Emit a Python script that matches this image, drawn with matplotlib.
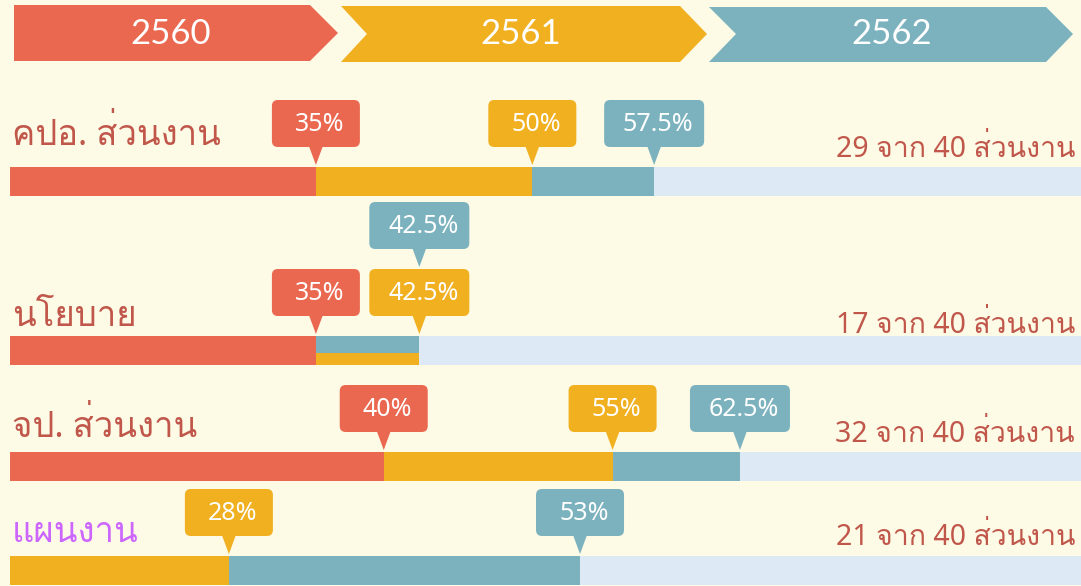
import matplotlib
matplotlib.use('Agg')
import matplotlib.pyplot as plt
from matplotlib import font_manager
from matplotlib.ft2font import FT2Font
from matplotlib.patches import Polygon, FancyBboxPatch

# data
years = ['2560', '2561', '2562']
rows = ['คปอ. ส่วนงาน', 'นโยบาย', 'จป. ส่วนงาน', 'แผนงาน']
pct_2560 = [35, 35, 40, None]
pct_2561 = [50, 42.5, 55, 28]
pct_2562 = [57.5, 42.5, 62.5, 53]
done = [29, 17, 32, 21]
total = 40

# colours
BG = '#FDFAE6'
RED = '#EB6850'
YEL = '#F0B020'
BLUE = '#7BB2BE'
TRACK = '#DDE9F5'
BROWN = '#C0574A'
PURPLE = '#CC66FF'
year_colors = [RED, YEL, BLUE]
row_label_colors = [BROWN, BROWN, BROWN, PURPLE]


def thai_family():
    # find any installed font that has Thai glyphs
    for f in font_manager.fontManager.ttflist:
        try:
            cmap = FT2Font(f.fname).get_charmap()
        except Exception:
            continue
        if 0x0E2A in cmap and 0x0E27 in cmap and 0x0E48 in cmap:
            return f.name
    return None


thai = thai_family()
fam = ['Noto Sans', thai, 'DejaVu Sans'] if thai else ['Noto Sans', 'DejaVu Sans']

W, H = 1081, 586
fig = plt.figure(figsize=(W / 100, H / 100), dpi=100, facecolor=BG)

# bar axes: x in percent on a stretched (power) scale like the infographic, y in pixels
ax = fig.add_axes([10 / W, 0, (W - 10) / W, 1])
ax.set_xscale('function', functions=(lambda v: v ** 1.5, lambda u: u ** (1 / 1.5)))
ax.set_xlim(0, 80.7)
ax.set_ylim(H, 0)
ax.axis('off')
ax.set_zorder(1)

# overlay axes in pixel units for decorations
bg = fig.add_axes([0, 0, 1, 1])
bg.set_xlim(0, W)
bg.set_ylim(H, 0)
bg.axis('off')
bg.set_zorder(2)

# year chevrons
chevrons = [
    [(14, 5), (310, 5), (338, 33), (310, 61), (14, 61)],
    [(341, 6), (680, 6), (707, 34), (680, 62), (341, 62), (367, 34)],
    [(709, 7), (1046, 7), (1073, 34), (1046, 62), (709, 62), (736, 34)],
]
year_x = [171, 521, 892]
for pts, yr, c, cx in zip(chevrons, years, year_colors, year_x):
    bg.add_patch(Polygon(pts, closed=True, fc=c, ec='none'))
    bg.text(cx, 34, yr, ha='center', va='center', color='white',
            fontsize=25, family='Lato')

bar_top = [167, 336, 452, 556]
bar_h = 29
label_base = [145, 326, 437, 542]
right_base = [157, 333, 442, 545]


def to_px(v, y):
    d = ax.transData.transform((v, y))
    return bg.transData.inverted().transform(d)[0]


def callout(v, ytip, text, color, level=0):
    tx = to_px(v, ytip)
    ty = ytip - 2 - level * 67
    bw = 88 if len(text) <= 3 else 100
    bh = 47
    ptr = 18
    bg.add_patch(FancyBboxPatch((tx - bw / 2, ty - ptr - bh), bw, bh,
                                boxstyle='round,pad=0,rounding_size=6',
                                fc=color, ec='none'))
    bg.add_patch(Polygon([(tx - 7, ty - ptr - 1), (tx + 7, ty - ptr - 1), (tx, ty)],
                         closed=True, fc=color, ec='none'))
    bg.text(tx + 4, ty - ptr - bh / 2 + 1, text, ha='center', va='center',
            color='white', fontsize=18, family='Noto Sans')


for i, name in enumerate(rows):
    yc = bar_top[i] + bar_h / 2
    a, b, c = pct_2560[i], pct_2561[i], pct_2562[i]
    ax.barh(yc, 80.7, left=0, height=bar_h, color=TRACK)
    start = 0
    if a is not None:
        ax.barh(yc, a, left=0, height=bar_h, color=RED)
        start = a
    ax.barh(yc, b - start, left=start, height=bar_h, color=YEL)
    if c > b:
        ax.barh(yc, c - b, left=b, height=bar_h, color=BLUE)
    else:
        # same value as 2561: share the segment, blue on top
        ax.barh(bar_top[i] + bar_h * 0.3, b - start, left=start,
                height=bar_h * 0.6, color=BLUE)

    if a is not None:
        callout(a, bar_top[i], f'{a:g}%', RED)
    callout(b, bar_top[i], f'{b:g}%', YEL)
    callout(c, bar_top[i], f'{c:g}%', BLUE, level=1 if c == b else 0)

    bg.text(12, label_base[i], name, ha='left', va='baseline',
            color=row_label_colors[i], fontsize=25, family=fam)
    bg.text(1075, right_base[i], f'{done[i]} จาก {total} ส่วนงาน',
            ha='right', va='baseline', color=BROWN, fontsize=20.5, family=fam)

fig.savefig('out.png', dpi=100, facecolor=BG)
